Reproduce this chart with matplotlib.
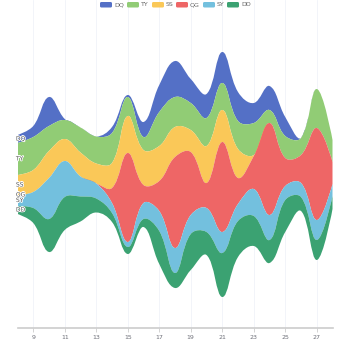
import numpy as np
import matplotlib
matplotlib.use("Agg")
from matplotlib import pyplot as plt
from matplotlib.path import Path
from matplotlib.patches import PathPatch, FancyBboxPatch
import matplotlib.patheffects as pe

days = list(range(8, 29))
names = ["DQ", "TY", "SS", "QG", "SY", "DD"]
colors = ["#5470c6", "#91cc75", "#fac858", "#ee6666", "#73c0de", "#3ba272"]

dq = [8, 11, 29, 1, 0, 0, 6, 2, 15, 27, 36, 24, 24, 31, 29, 20, 24, 19, 0, 0, 0]
ty = [32, 33, 25, 19, 25, 27, 30, 19, 13, 34, 30, 27, 28, 27, 28, 32, 13, 22, 17, 39, 22]
ss = [20, 22, 27, 22, 24, 20, 25, 37, 35, 35, 30, 22, 37, 32, 29, 1, 0, 0, 0, 0, 0]
qg = [0, 0, 0, 0, 0, 0, 15, 89, 18, 30, 91, 63, 25, 90, 26, 33, 92, 28, 28, 92, 22]
sy = [11, 16, 41, 36, 20, 15, 10, 5, 16, 20, 25, 19, 24, 21, 17, 27, 25, 14, 14, 20, 12]
dd = [8, 15, 33, 33, 25, 14, 9, 7, 8, 33, 15, 36, 23, 44, 36, 30, 23, 32, 14, 20, 13]
layers = [dq, ty, ss, qg, sy, dd]

tick_days = [9, 11, 13, 15, 17, 19, 21, 23, 25, 27]

W, H = 350, 350
fig = plt.figure(figsize=(W / 100, H / 100), dpi=100)
ax = fig.add_axes([17.5 / W, 22 / H, 315 / W, 328 / H])
ax.set_xlim(days[0], days[-1])
ax.set_ylim(-153.5, 174.5)
px_per_day = 315 / (days[-1] - days[0])


def bezier_cps(pts, smooth=0.4):
    # same scheme as zrender smoothBezier, distances in pixel space
    cps = []
    n = len(pts)
    for i in range(n):
        if i == 0 or i == n - 1:
            cps.append(pts[i].copy())
            continue
        prev, nxt, p = pts[i - 1], pts[i + 1], pts[i]
        v = (nxt - prev) * smooth
        d0 = np.hypot(*(p - prev))
        d1 = np.hypot(*(p - nxt))
        s = d0 + d1
        if s:
            d0, d1 = d0 / s, d1 / s
        cps.append(p - v * d0)
        cps.append(p + v * d1)
    return cps


def curve(xs, ys):
    pts = [np.array([(x - days[0]) * px_per_day, y]) for x, y in zip(xs, ys)]
    cps = bezier_cps(pts)
    verts = []
    for i in range(len(pts) - 1):
        verts += [cps[2 * i], cps[2 * i + 1], pts[i + 1]]
    verts = [(v[0] / px_per_day + days[0], v[1]) for v in verts]
    return [(days[0] + pts[0][0] / px_per_day, pts[0][1])], verts


data = np.array(layers, dtype=float)
totals = data.sum(axis=0)
top = totals / 2
bounds = [top]
for row in data:
    bounds.append(bounds[-1] - row)

for k in range(len(layers)):
    upper, lower = bounds[k], bounds[k + 1]
    s0, v0 = curve(days, upper)
    s1, v1 = curve(days[::-1], lower[::-1])
    verts = s0 + v0 + s1 + v1 + [s0[0]]
    codes = ([Path.MOVETO] + [Path.CURVE4] * len(v0) + [Path.LINETO]
             + [Path.CURVE4] * len(v1) + [Path.CLOSEPOLY])
    ax.add_patch(PathPatch(Path(verts, codes), facecolor=colors[k],
                           edgecolor="none", zorder=2 + k))
    mid = (upper[0] + lower[0]) / 2
    ax.text(days[0] - 0.1, mid, names[k], fontsize=4.3, color="#555555",
            ha="left", va="center", zorder=20,
            path_effects=[pe.withStroke(linewidth=1.2, foreground="white")])

for d in tick_days:
    ax.axvline(d, color="#e0e6f1", lw=0.5, alpha=0.6, zorder=1)

for sp in ["top", "left", "right"]:
    ax.spines[sp].set_visible(False)
ax.spines["bottom"].set_color("#cccccc")
ax.spines["bottom"].set_linewidth(1.2)
ax.set_yticks([])
ax.set_xticks(tick_days)
ax.set_xticklabels([str(d) for d in tick_days])
ax.tick_params(axis="x", length=3, width=0.6, color="#cccccc",
               labelsize=4.5, labelcolor="#6e7079", pad=2)

# legend row
lx = [100, 127, 152, 176, 203, 227]
for k, name in enumerate(names):
    fig.patches.append(FancyBboxPatch(
        (lx[k] / W, (H - 7.5) / H), 12 / W, 5.5 / H,
        boxstyle="round,pad=0,rounding_size=0.004", transform=fig.transFigure,
        facecolor=colors[k], edgecolor="none"))
    fig.text((lx[k] + 14) / W, (H - 4.8) / H, name, fontsize=4.5,
             color="#666666", ha="left", va="center")

fig.savefig("out.png", dpi=100, facecolor="white")
